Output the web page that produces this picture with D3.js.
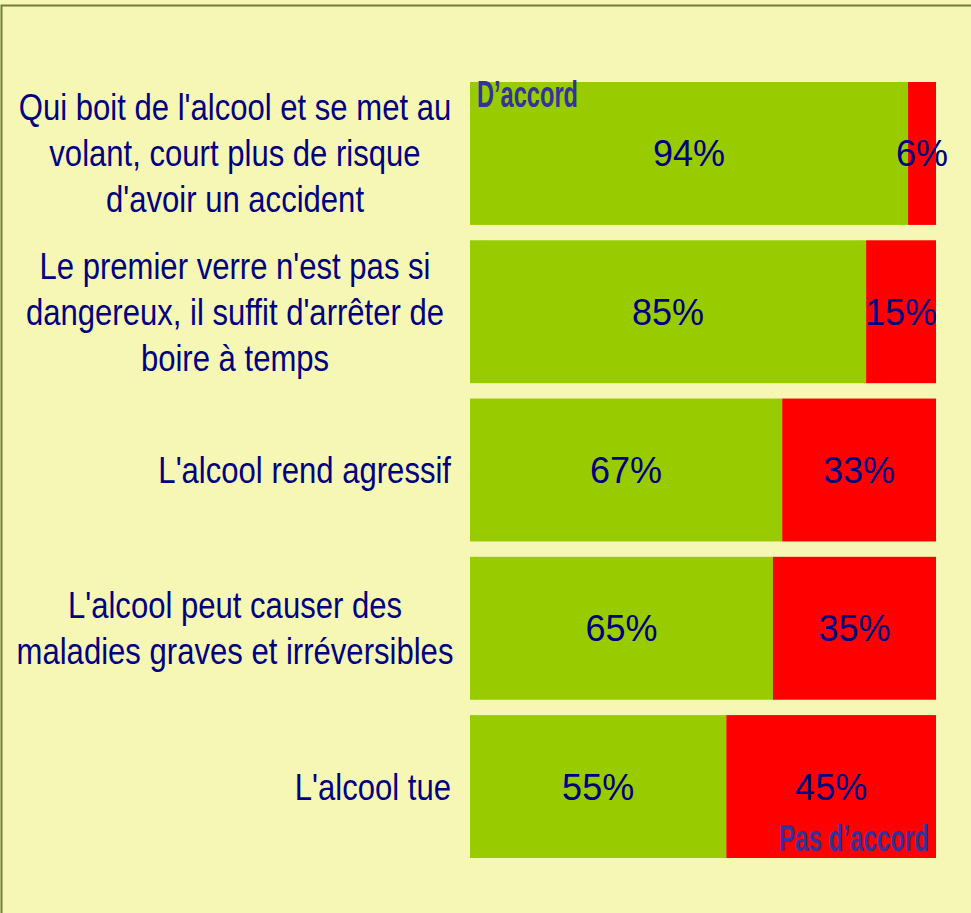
<!DOCTYPE html>
<html lang="fr">
  <head>
    <meta charset="UTF-8" />
    <title>Alcool : d'accord / pas d'accord</title>
    <style>
      html,
      body {
        margin: 0;
        padding: 0;
        background: #f6f7b4;
      }
      #chart {
        display: block;
      }
      text {
        font-family: "Liberation Sans", Arial, sans-serif;
      }
    </style>
    <script src="https://cdn.jsdelivr.net/npm/d3@7"></script>
  </head>
  <body>
    <svg id="chart" width="971" height="913"></svg>
    <script>
      // lignes de chaque libellé, telles que coupées dans l'original
      const categories = [
        ["Qui boit de l'alcool et se met au", "volant, court plus de risque", "d'avoir un accident"],
        ["Le premier verre n'est pas si", "dangereux, il suffit d'arrêter de", "boire à temps"],
        ["L'alcool rend agressif"],
        ["L'alcool peut causer des", "maladies graves et irréversibles"],
        ["L'alcool tue"],
      ];
      const daccord = [94, 85, 67, 65, 55];
      const pasDaccord = [6, 15, 33, 35, 45];
      const seriesNames = ["D’accord", "Pas d’accord"];

      const W = 971,
        H = 913;
      const svg = d3.select("#chart");

      // cadre
      svg
        .append("rect")
        .attr("x", 1.5)
        .attr("y", 5.5)
        .attr("width", W + 10)
        .attr("height", H + 10)
        .attr("fill", "#f6f7b4")
        .attr("stroke", "#6f7f35")
        .attr("stroke-width", 2);

      const x = d3.scaleLinear().domain([0, 100]).range([470, 936]);
      const y = d3
        .scaleBand()
        .domain(d3.range(categories.length))
        .range([82, 858])
        .paddingInner(0.097)
        .paddingOuter(0);

      const rows = categories.map((c, i) => ({
        lines: c,
        vals: [daccord[i], pasDaccord[i]],
      }));
      const colors = ["#99cc00", "#ff0000"];

      const g = svg
        .selectAll("g.row")
        .data(rows)
        .join("g")
        .attr("class", "row")
        .attr("transform", (d, i) => `translate(0,${y(i)})`);

      // segments empilés
      g.each(function (d) {
        let acc = 0;
        const segs = d.vals.map((v, k) => {
          const s = { x0: acc, x1: acc + v, v, k };
          acc += v;
          return s;
        });
        const sel = d3.select(this);
        sel
          .selectAll("rect")
          .data(segs)
          .join("rect")
          .attr("x", (s) => x(s.x0))
          .attr("width", (s) => x(s.x1) - x(s.x0))
          .attr("y", 0)
          .attr("height", y.bandwidth())
          .attr("fill", (s) => colors[s.k]);
        sel
          .selectAll("text.val")
          .data(segs)
          .join("text")
          .attr("class", "val")
          .attr("x", (s) => (x(s.x0) + x(s.x1)) / 2)
          .attr("y", y.bandwidth() / 2 + 13)
          .attr("text-anchor", "middle")
          .attr("font-size", 36)
          .attr("fill", "#000080")
          .text((s) => s.v + "%");
      });

      // libellés des catégories (police étroite simulée par un scaleX)
      const lh = 46;
      const sx = 0.84;
      g.each(function (d) {
        const n = d.lines.length;
        const multi = n > 1;
        d3.select(this)
          .append("g")
          .attr("transform", `scale(${sx},1)`)
          .selectAll("text.cat")
          .data(d.lines)
          .join("text")
          .attr("class", "cat")
          .attr("x", (multi ? 235 : 451) / sx)
          .attr("text-anchor", multi ? "middle" : "end")
          .attr("y", (t, j) => y.bandwidth() / 2 + 13 + (j - (n - 1) / 2) * lh)
          .attr("font-size", 37)
          .attr("fill", "#000080")
          .text((t) => t);
      });

      // noms des séries, posés sur les barres
      svg
        .append("text")
        .attr("x", x(0) + 7)
        .attr("y", 107)
        .attr("font-size", 37)
        .attr("font-weight", "bold")
        .attr("fill", "#333399")
        .attr("textLength", 101)
        .attr("lengthAdjust", "spacingAndGlyphs")
        .text(seriesNames[0]);
      svg
        .append("text")
        .attr("x", x(100) - 7)
        .attr("y", 851)
        .attr("text-anchor", "end")
        .attr("font-size", 37)
        .attr("font-weight", "bold")
        .attr("fill", "#333399")
        .attr("textLength", 150)
        .attr("lengthAdjust", "spacingAndGlyphs")
        .text(seriesNames[1]);
    </script>
  </body>
</html>
